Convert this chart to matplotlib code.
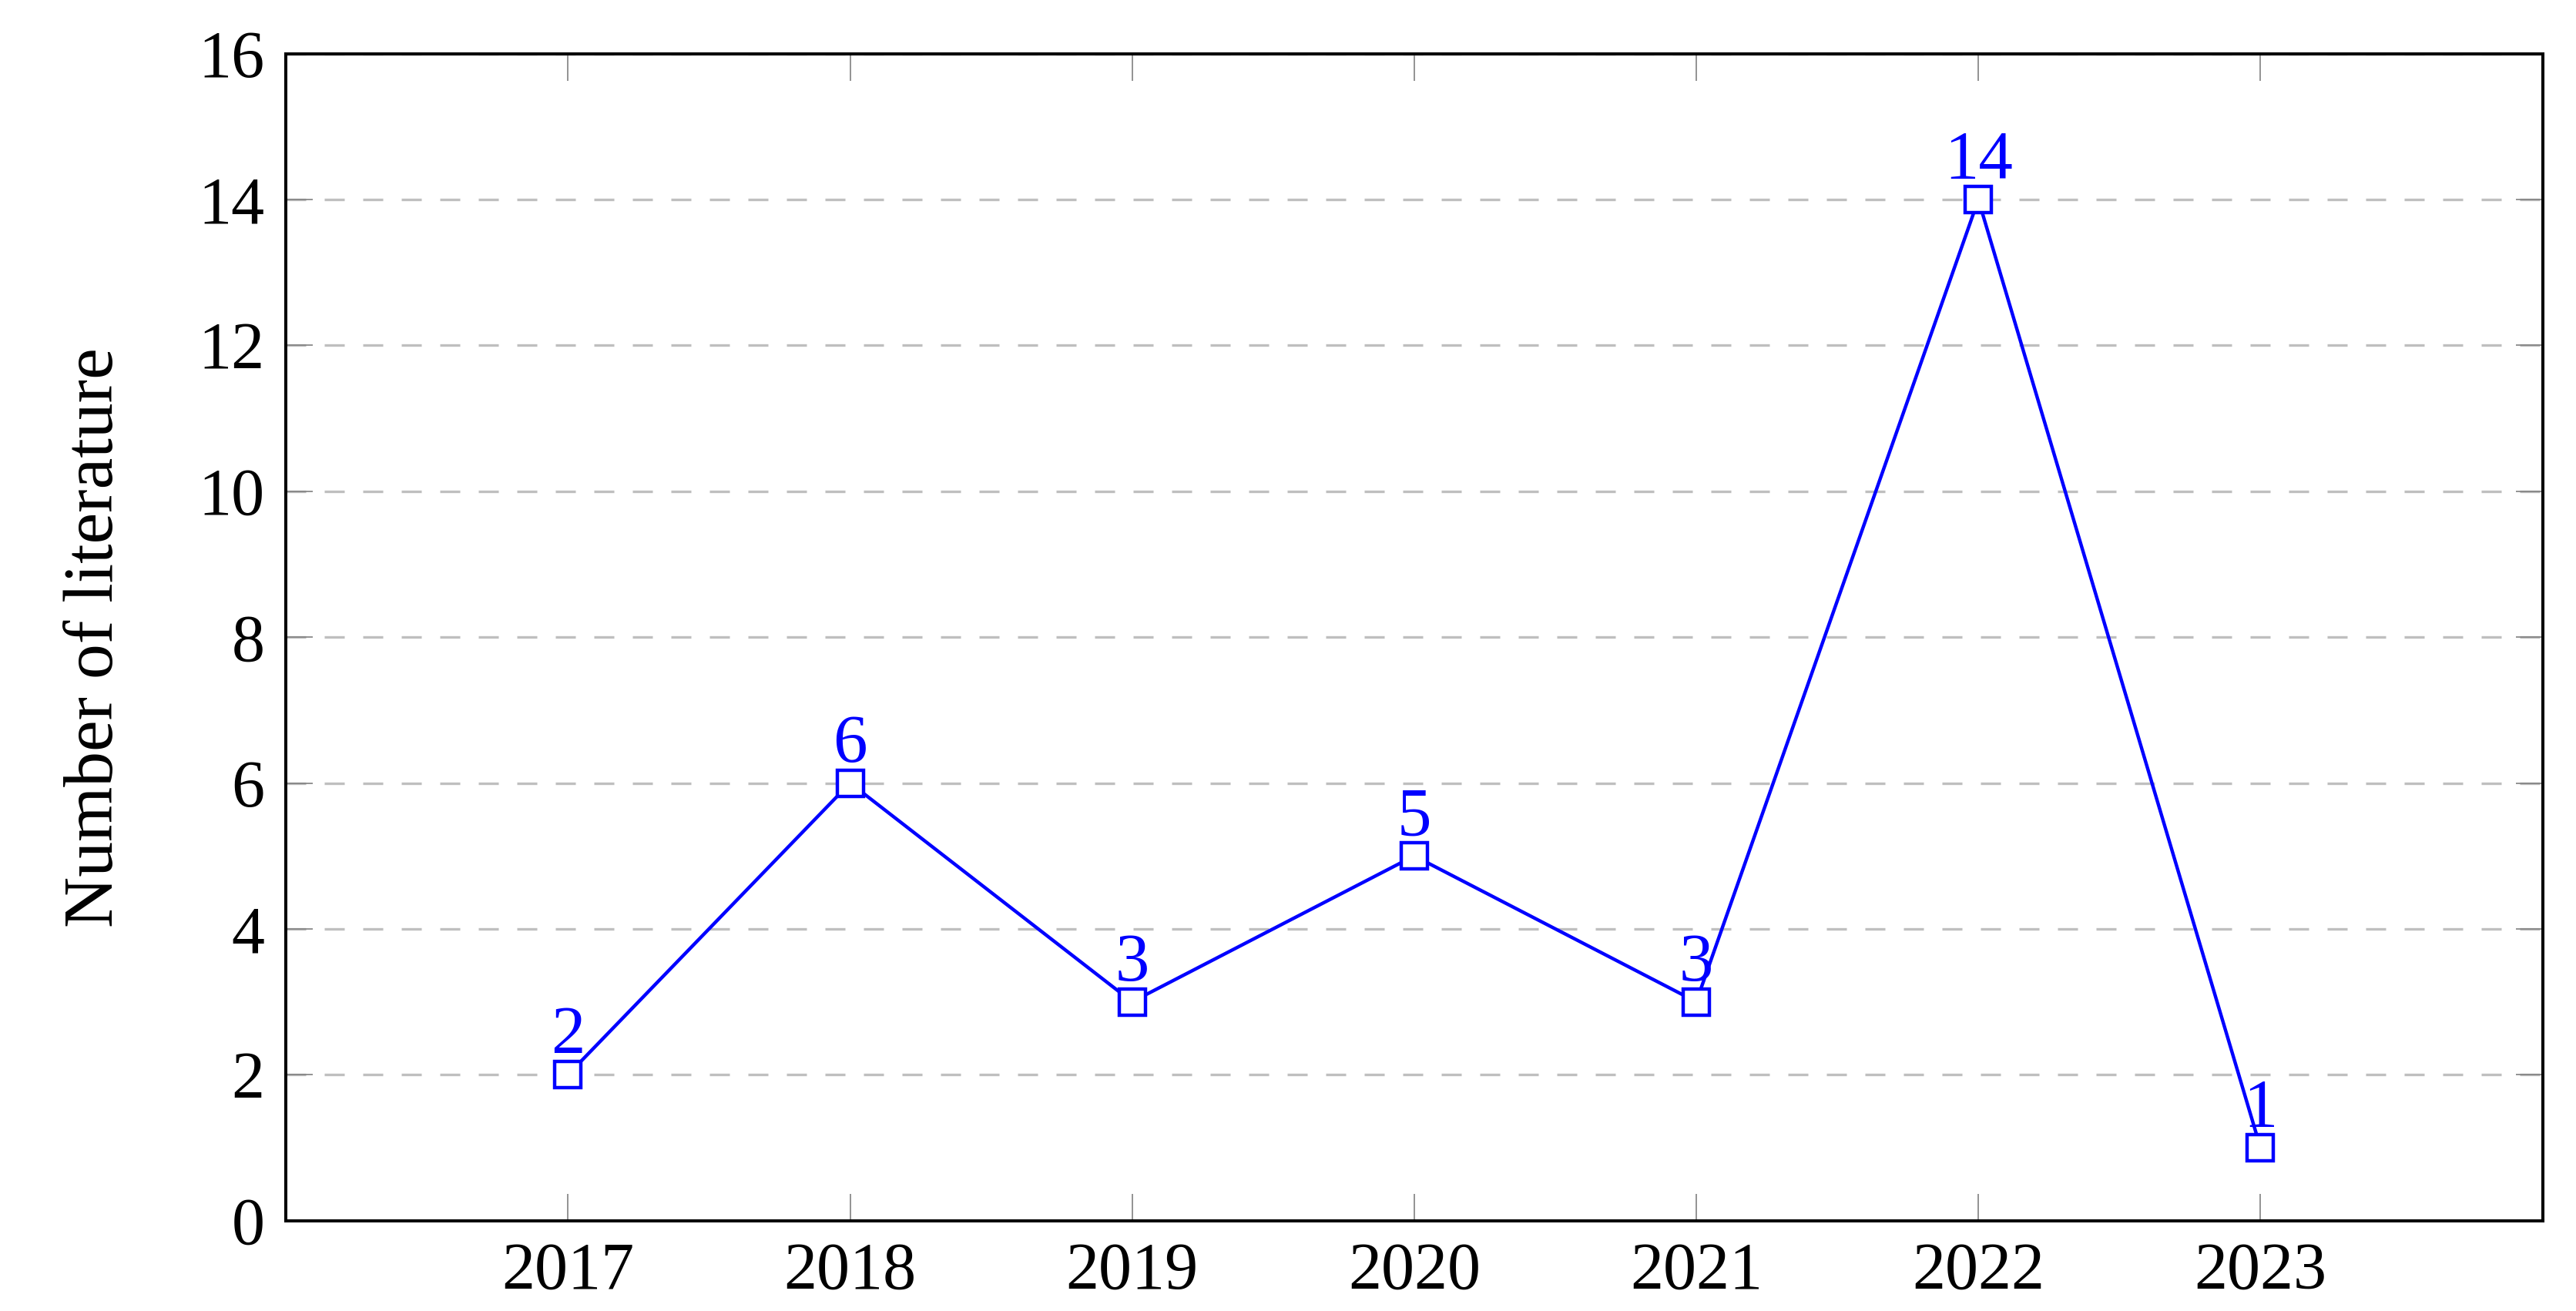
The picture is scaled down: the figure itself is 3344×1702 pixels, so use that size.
import matplotlib
matplotlib.use("Agg")
import matplotlib.pyplot as plt

# Données : nombre de publications par année
years = [2017, 2018, 2019, 2020, 2021, 2022, 2023]
counts = [2, 6, 3, 5, 3, 14, 1]
y_ticks = [0, 2, 4, 6, 8, 10, 12, 14, 16]

plt.rcParams['font.family'] = ['Liberation Serif', 'DejaVu Serif']
plt.rcParams['font.size'] = 31

fig, ax = plt.subplots(figsize=(16.72, 8.51), dpi=200)
fig.subplots_adjust(left=0.111, right=0.987, top=0.959, bottom=0.069)

ax.plot(years, counts, color='blue', lw=1.6, marker='s', markersize=12.5,
        markerfacecolor='white', markeredgecolor='blue', markeredgewidth=1.6,
        zorder=3)

for x, y in zip(years, counts):
    ax.annotate(str(y), (x, y), xytext=(0, 10), textcoords='offset points',
                ha='center', va='baseline', color='blue', fontsize=32, zorder=4)

ax.set_xlim(2016, 2024)
ax.set_ylim(0, 16)
ax.set_xticks(years)
ax.set_xticklabels([str(v) for v in years])
ax.set_yticks(y_ticks)

# grille horizontale en pointillés
ax.yaxis.grid(True, color='#bfbfbf', lw=1.2, dashes=(7.8, 7.2))
ax.set_axisbelow(True)

ax.tick_params(direction='in', length=12.5, width=0.6, color='#808080',
               top=True, right=True, pad=10)
for s in ax.spines.values():
    s.set_linewidth(1.45)
    s.set_color('black')

ax.set_ylabel('Number of literature', fontsize=33, labelpad=33)

fig.savefig('out.png', dpi=200)
